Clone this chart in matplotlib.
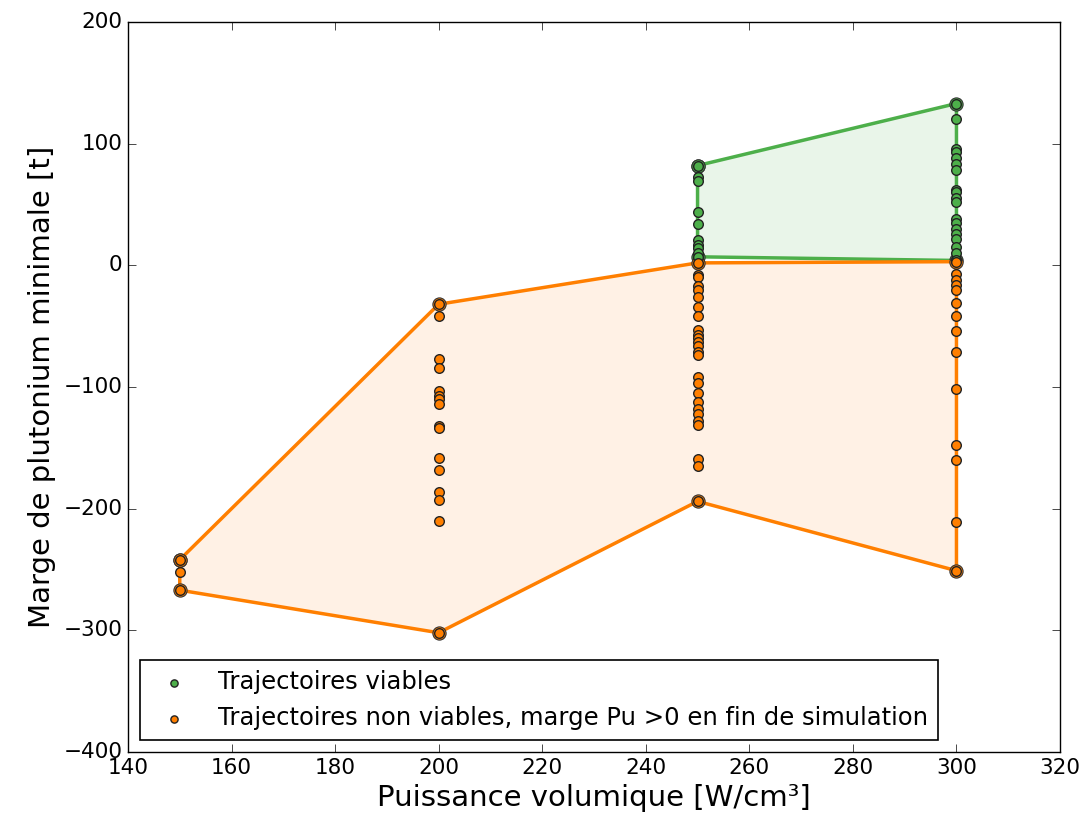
# Marge de plutonium minimale vs puissance volumique
import numpy as np
import matplotlib
matplotlib.use('Agg')
import matplotlib.pyplot as plt

plt.style.use('classic')

# Trajectoires viables (vert)
viable_x = [250] * 10 + [300] * 19
viable_y = [82, 73, 69, 44, 34, 21, 17, 14, 10, 7,
            133, 120, 96, 93, 88, 83, 78, 62, 60, 55, 52, 38, 35, 30, 26, 22, 15, 10, 4]

# Trajectoires non viables (orange)
nonviable_x = [150] * 3 + [200] * 16 + [250] * 26 + [300] * 14
nonviable_y = [-242, -252, -267,
               -32, -42, -77, -84, -103, -107, -110, -114, -132, -134, -158, -168, -186, -193, -210, -302,
               2, -8, -10, -17, -20, -26, -34, -42, -53, -57, -60, -63, -66, -71, -74, -92, -97, -105,
               -112, -118, -122, -128, -131, -159, -165, -194,
               3, -7, -12, -16, -20, -31, -42, -54, -71, -102, -148, -160, -211, -251]

# enveloppes (sommets)
hull_v_x = [250, 300, 300, 250, 250]
hull_v_y = [82, 133, 4, 7, 82]
hull_nv_x = [150, 200, 250, 300, 300, 250, 200, 150, 150]
hull_nv_y = [-242, -32, 2, 3, -251, -194, -302, -267, -242]

green = '#4daf4a'
orange = '#ff7f00'

fig = plt.figure(figsize=(10.9, 8.3), dpi=100, facecolor='white')
ax = fig.add_axes([0.1174, 0.094, 0.8551, 0.8795])

ax.fill(hull_v_x, hull_v_y, color=green, alpha=0.12, lw=0)
ax.fill(hull_nv_x, hull_nv_y, color=orange, alpha=0.1, lw=0)
ax.plot(hull_v_x, hull_v_y, '-o', color=green, lw=2.5, ms=9.5, mec='#333333', mew=0.8)
ax.plot(hull_nv_x, hull_nv_y, '-o', color=orange, lw=2.5, ms=9.5, mec='#333333', mew=0.8)

ax.scatter(viable_x, viable_y, s=48, c=green, edgecolors='#222222', linewidths=1,
           zorder=3, label='Trajectoires viables')
ax.scatter(nonviable_x, nonviable_y, s=48, c=orange, edgecolors='#222222', linewidths=1,
           zorder=3, label='Trajectoires non viables, marge Pu >0 en fin de simulation')

ax.set_xlim(140, 320)
ax.set_ylim(-400, 200)
ax.set_xticks(np.arange(140, 321, 20))
ax.set_yticks(np.arange(-400, 201, 100))
ax.tick_params(labelsize=15.5, direction='in', length=6)
ax.set_xlabel('Puissance volumique [W/cm³]', fontsize=21)
ax.set_ylabel('Marge de plutonium minimale [t]', fontsize=21)

leg = ax.legend(loc='lower left', scatterpoints=1, fontsize=17.5, markerscale=0.75,
                fancybox=False, borderaxespad=0.5, handletextpad=0.8)
leg.get_frame().set_linewidth(1.2)

fig.savefig('out.png', dpi=100, facecolor='white')
